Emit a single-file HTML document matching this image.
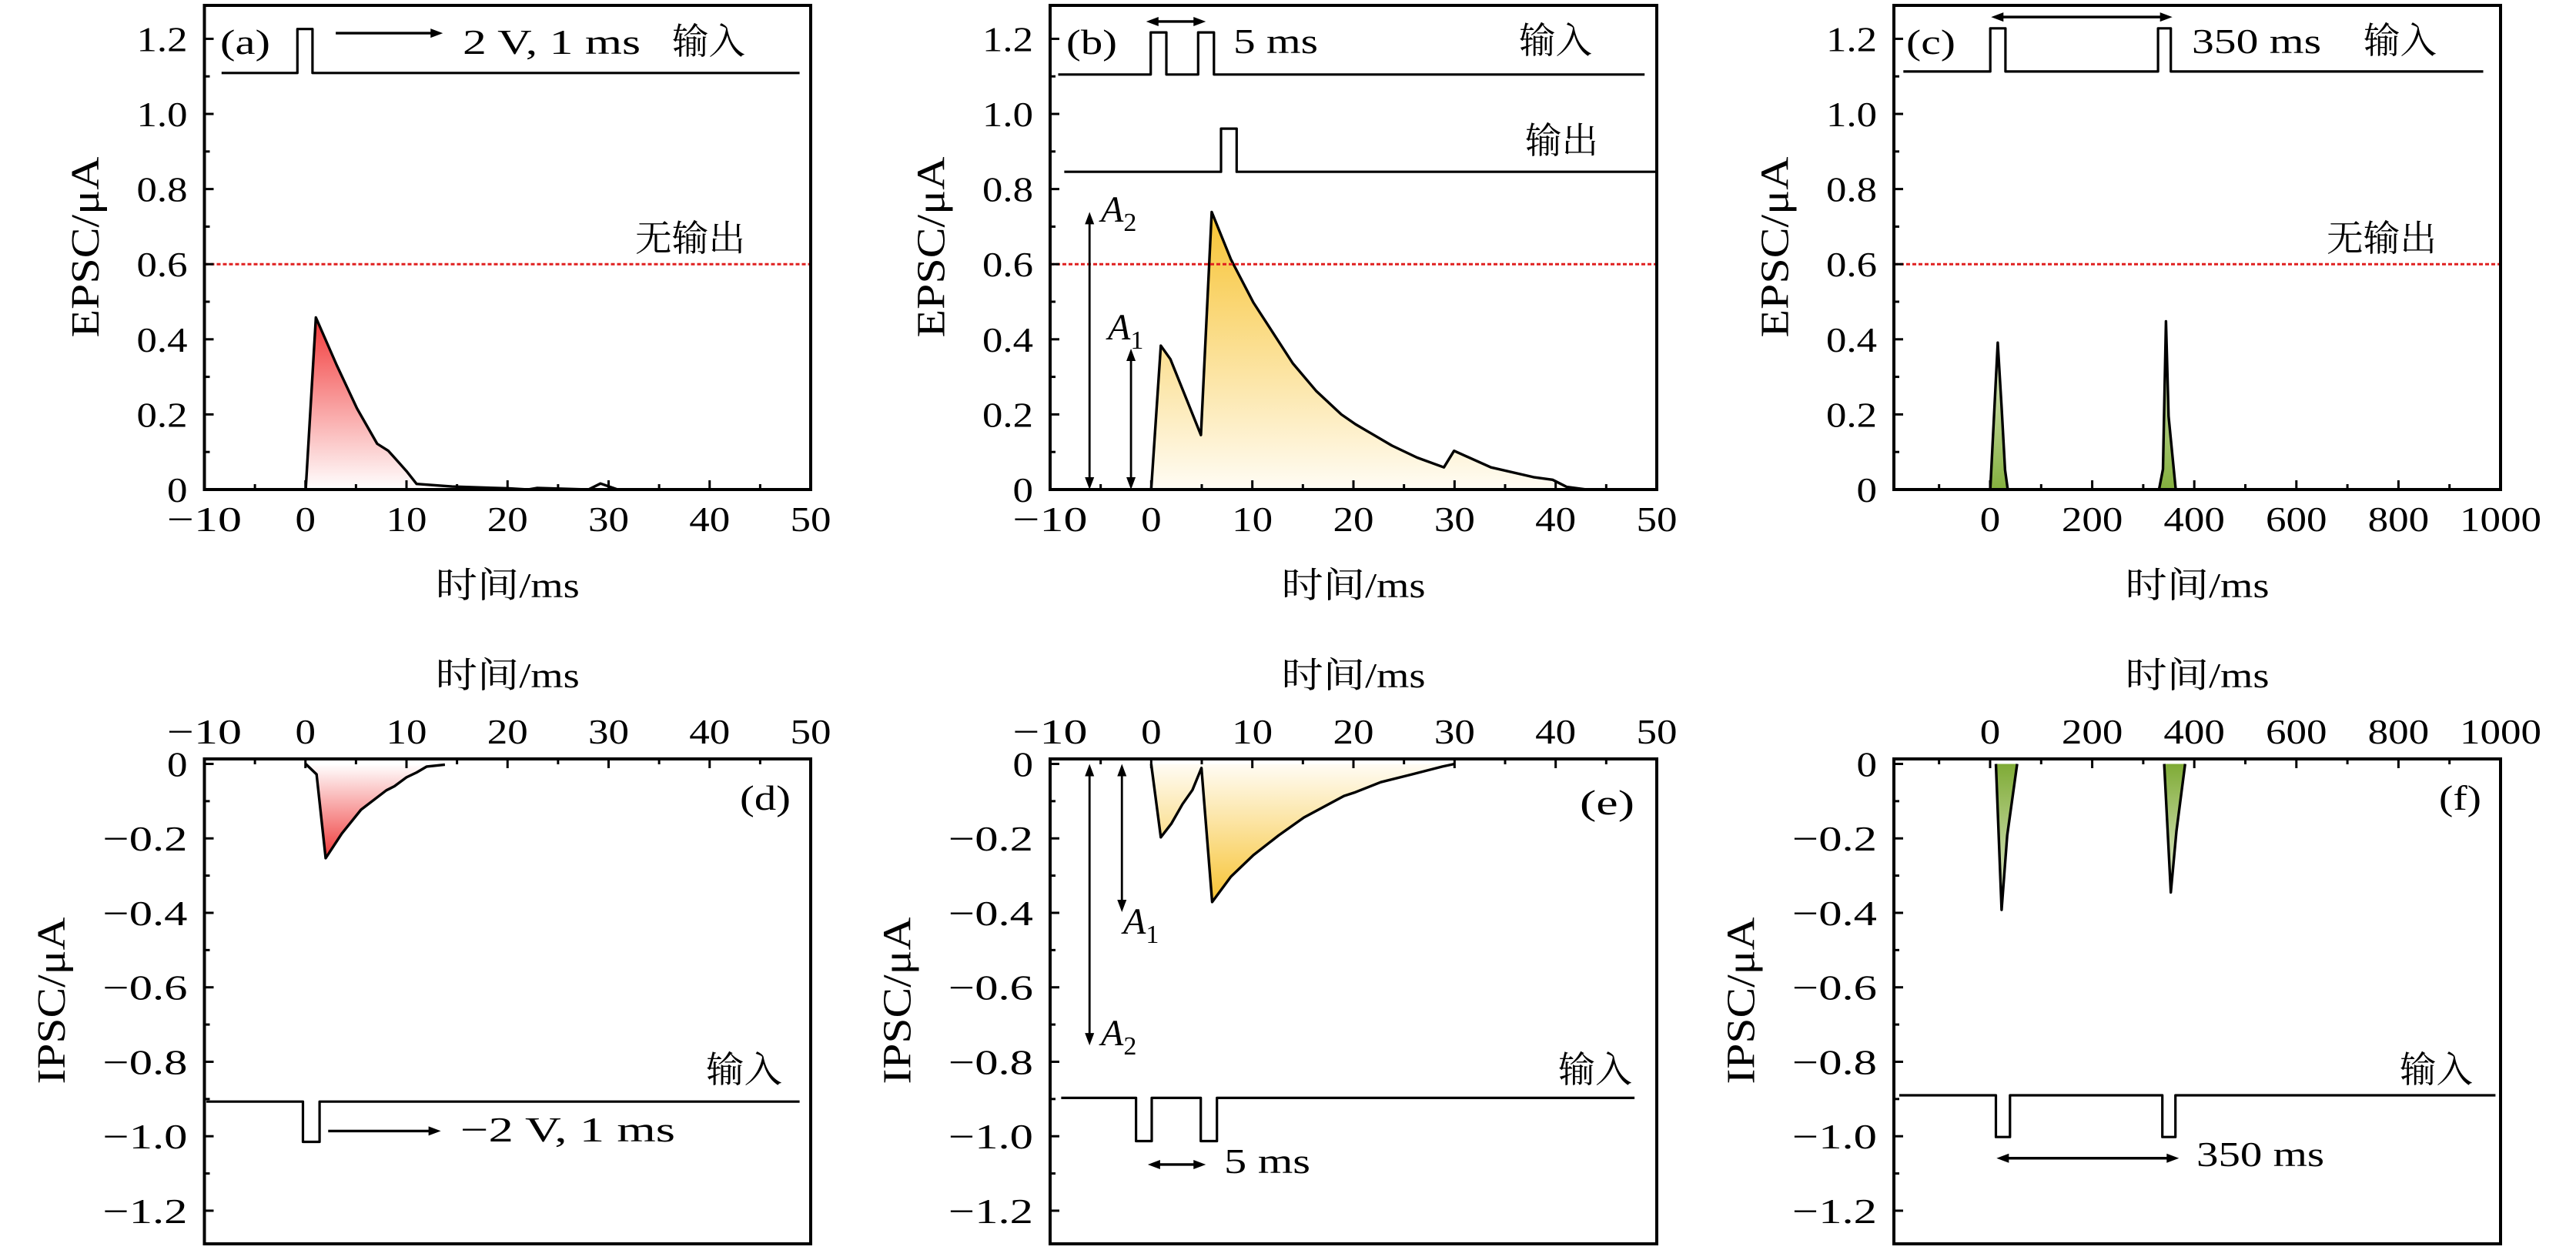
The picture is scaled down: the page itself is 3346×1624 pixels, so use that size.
<!DOCTYPE html>
<html><head><meta charset="utf-8"><style>
html,body{margin:0;padding:0;background:#fff;}
svg{display:block;}
text{font-family:"Liberation Serif","DejaVu Serif","Noto Serif CJK SC",serif;fill:#000;}
</style></head>
<body>
<svg id="fig" xmlns="http://www.w3.org/2000/svg" width="3346" height="1624" viewBox="0 0 3346 1624">
<defs>
<linearGradient id="gRedDown" x1="0" y1="0" x2="0" y2="1"><stop offset="0" stop-color="#f23a3a"/><stop offset="1" stop-color="#ffffff"/></linearGradient>
<linearGradient id="gRedUp" x1="0" y1="0" x2="0" y2="1"><stop offset="0" stop-color="#ffffff"/><stop offset="1" stop-color="#f03838"/></linearGradient>
<linearGradient id="gYelDown" x1="0" y1="0" x2="0" y2="1"><stop offset="0" stop-color="#f7c332"/><stop offset="1" stop-color="#fffcf4"/></linearGradient>
<linearGradient id="gYelUp" x1="0" y1="0" x2="0" y2="1"><stop offset="0" stop-color="#fffcf4"/><stop offset="1" stop-color="#f7c332"/></linearGradient>
<linearGradient id="gGrnUp" x1="0" y1="0" x2="0" y2="1"><stop offset="0" stop-color="#e4ecd2"/><stop offset="1" stop-color="#84b03e"/></linearGradient>
<linearGradient id="gGrnDown" x1="0" y1="0" x2="0" y2="1"><stop offset="0" stop-color="#7fab36"/><stop offset="1" stop-color="#e8efd8"/></linearGradient>
</defs>
</svg>
<script>
// ---------- data ----------
const timeTicksMs = [-10, 0, 10, 20, 30, 40, 50];
const timeTickLabels = ['\u221210', '0', '10', '20', '30', '40', '50'];
const longTicksMs = [0, 200, 400, 600, 800, 1000];
const longTickLabels = ['0', '200', '400', '600', '800', '1000'];
const epscTicks = [0, 0.2, 0.4, 0.6, 0.8, 1.0, 1.2];
const epscTickLabels = ['0', '0.2', '0.4', '0.6', '0.8', '1.0', '1.2'];
const ipscTicks = [0, -0.2, -0.4, -0.6, -0.8, -1.0, -1.2];
const ipscTickLabels = ['0', '\u22120.2', '\u22120.4', '\u22120.6', '\u22120.8', '\u22121.0', '\u22121.2'];
const thresholdValue = 0.6;

// panel (a)
const aTime = [0.03, 1.03, 3.1, 5.1, 7.1, 8.2, 9.3, 10.0, 11.0, 14.5, 20.1, 22, 22.9, 28, 29.2, 30.9];
const aEpsc = [0, 0.458, 0.331, 0.216, 0.122, 0.103, 0.07, 0.049, 0.015, 0.008, 0.003, 0, 0.004, 0, 0.016, 0];
const aInT = [-8.3, -0.8, -0.8, 0.7, 0.7, 48.9];
const aInV = [1.109, 1.109, 1.226, 1.226, 1.109, 1.109];
// panel (b)
const bTime = [0, 0.95, 1.9, 4.92, 5.98, 7.88, 10.1, 14.0, 16.3, 18.8, 20.2, 23.8, 26.3, 28.95, 29.95, 33.6, 37.8, 39.7, 41.1, 43.1];
const bEpsc = [0, 0.383, 0.347, 0.145, 0.739, 0.613, 0.498, 0.336, 0.263, 0.2, 0.174, 0.117, 0.085, 0.059, 0.103, 0.059, 0.033, 0.026, 0.007, 0];
const bInT = [-9.2, -0.05, -0.05, 1.5, 1.5, 4.64, 4.64, 6.2, 6.2, 48.8];
const bInV = [1.105, 1.105, 1.217, 1.217, 1.105, 1.105, 1.217, 1.217, 1.105, 1.105];
const bOutT = [-8.6, 6.9, 6.9, 8.45, 8.45, 49.9];
const bOutV = [0.846, 0.846, 0.961, 0.961, 0.846, 0.846];
// panel (c)
const cTime = [0.3, 15, 22.7, 29.3, 34.5, 331, 338.6, 344.5, 349.7, 363.7];
const cEpsc = [0, 0.391, 0.216, 0.052, 0, 0, 0.054, 0.448, 0.195, 0];
const cInT = [-170, 0.3, 0.3, 30, 30, 329, 329, 354, 354, 966];
const cInV = [1.113, 1.113, 1.228, 1.228, 1.113, 1.113, 1.228, 1.228, 1.113, 1.113];
// panel (d)
const dTime = [0.03, 1.1, 2.0, 3.6, 5.5, 8.0, 8.8, 10.0, 11.0, 12.0, 13.8];
const dIpsc = [0, -0.028, -0.253, -0.187, -0.123, -0.071, -0.06, -0.036, -0.023, -0.007, -0.002];
const dInT = [-9.8, -0.25, -0.25, 1.4, 1.4, 48.9];
const dInV = [-0.907, -0.907, -1.015, -1.015, -0.907, -0.907];
// panel (e)
const eTime = [0, 0.95, 2.0, 3.1, 4.08, 4.97, 6.03, 7.88, 10.1, 12.6, 15.1, 19.06, 20.2, 22.7, 25.8, 28.8, 30];
const eIpsc = [0, -0.197, -0.16, -0.108, -0.07, -0.011, -0.371, -0.303, -0.245, -0.192, -0.144, -0.086, -0.076, -0.049, -0.028, -0.007, 0];
const eInT = [-8.9, -1.5, -1.5, 0.05, 0.05, 4.9, 4.9, 6.5, 6.5, 47.8];
const eInV = [-0.897, -0.897, -1.013, -1.013, -0.897, -0.897, -1.013, -1.013, -0.897, -0.897];
// panel (f)
const fTime = [11.3, 22.5, 33.5, 53, 341, 354, 365, 382];
const fIpsc = [0, -0.392, -0.192, 0, 0, -0.345, -0.181, 0];
const fInT = [-178, 11.3, 11.3, 39, 39, 337.5, 337.5, 363, 363, 990];
const fInV = [-0.89, -0.89, -1.002, -1.002, -0.89, -0.89, -1.002, -1.002, -0.89, -0.89];

// ---------- helpers ----------
const NS = 'http://www.w3.org/2000/svg';
const svg = document.getElementById('fig');
const FONT = '"Liberation Serif","DejaVu Serif","Noto Serif CJK SC",serif';
function mk(tag, attrs, parent) {
  const e = document.createElementNS(NS, tag);
  for (const k in attrs) e.setAttribute(k, attrs[k]);
  (parent || svg).appendChild(e);
  return e;
}
function sx(p, v) { return p.L + (v - p.x0) / (p.x1 - p.x0) * (p.R - p.L); }
function sy(p, v) { return p.B - (v - p.y0) / (p.y1 - p.y0) * (p.B - p.T); }
function pts(p, xs, ys) { return xs.map((x, i) => sx(p, x).toFixed(1) + ',' + sy(p, ys[i]).toFixed(1)).join(' '); }
function numWidth(s) {
  let w = 0;
  for (const ch of s) w += (ch === '.') ? 13 : (ch === '\u2212' ? 44 : 26.5);
  return w;
}

const PA = {L: 265.5, R: 1053, T: 7, B: 636, x0: -10, x1: 50, y0: 0, y1: 1.289};
const PB = {L: 1364, R: 2152, T: 7, B: 636, x0: -10, x1: 50, y0: 0, y1: 1.289};
const PC = {L: 2460, R: 3248, T: 7, B: 636, x0: -188.5, x1: 1000, y0: 0, y1: 1.289};
const PD = {L: 265.5, R: 1053, T: 986, B: 1616, x0: -10, x1: 50, y0: -1.289, y1: 0.0134};
const PE = {L: 1364, R: 2152, T: 986, B: 1616, x0: -10, x1: 50, y0: -1.289, y1: 0.0134};
const PF = {L: 2460, R: 3248, T: 986, B: 1616, x0: -188.5, x1: 1000, y0: -1.289, y1: 0.0134};

function fillArea(p, xs, ys, grad, name) {
  const poly = pts(p, xs, ys) + ' ' + sx(p, xs[xs.length - 1]).toFixed(1) + ',' + sy(p, 0).toFixed(1) + ' ' + sx(p, xs[0]).toFixed(1) + ',' + sy(p, 0).toFixed(1);
  const el = mk('polygon', {points: poly, fill: 'url(#' + grad + ')', stroke: 'none'});
  
  
}
function curve(p, xs, ys, name, w) {
  const el = mk('polyline', {points: pts(p, xs, ys), fill: 'none', stroke: '#000', 'stroke-width': w || 3.4, 'stroke-linejoin': 'round'});
  
  
}
function arrowHead(x, y, dir, name) {
  const L = 16, W = 6;
  let d;
  if (dir === 'r') d = `M${x},${y} L${x - L},${y - W} L${x - L},${y + W} Z`;
  if (dir === 'l') d = `M${x},${y} L${x + L},${y - W} L${x + L},${y + W} Z`;
  if (dir === 'u') d = `M${x},${y} L${x - W},${y + L} L${x + W},${y + L} Z`;
  if (dir === 'd') d = `M${x},${y} L${x - W},${y - L} L${x + W},${y - L} Z`;
  const el = mk('path', {d: d, fill: '#000'});
  
  
}
function hArrow(p, x1v, x2v, yv, both, name) {
  const x1 = sx(p, x1v), x2 = sx(p, x2v), y = sy(p, yv);
  const el = mk('line', {x1: x1 + (both ? 8 : 0), y1: y, x2: x2 - 8, y2: y, stroke: '#000', 'stroke-width': 3.4});
  
  
  arrowHead(x2, y, 'r', name + '-head-right');
  if (both) arrowHead(x1, y, 'l', name + '-head-left');
}
function vArrow(p, xv, y1v, y2v, name) {
  const x = sx(p, xv), y1 = sy(p, y1v), y2 = sy(p, y2v);
  const el = mk('line', {x1: x, y1: Math.min(y1, y2) + 8, x2: x, y2: Math.max(y1, y2) - 8, stroke: '#000', 'stroke-width': 2.8});
  
  
  arrowHead(x, Math.min(y1, y2), 'u', name + '-head-up');
  arrowHead(x, Math.max(y1, y2), 'd', name + '-head-down');
}
function txt(x, y, s, size, name, anchor, len, extra) {
  const a = Object.assign({x: x, y: y, 'font-size': size, 'text-anchor': anchor || 'start', 'font-family': FONT}, extra || {});
  if (len) { a.textLength = len; a.lengthAdjust = 'spacingAndGlyphs'; }
  const el = mk('text', a);
  el.textContent = s;
  
  
  return el;
}
function ampLabel(x, y, sub, name) {
  const el = mk('text', {x: x, y: y, 'font-size': 48, 'font-style': 'italic', 'font-family': FONT});
  
  
  const t1 = mk('tspan', {}, el); t1.textContent = 'A';
  const t2 = mk('tspan', {'font-size': 34, 'font-style': 'normal', dy: 12}, el); t2.textContent = sub;
}
function threshold(p, name) {
  const el = mk('line', {x1: p.L, y1: sy(p, thresholdValue), x2: p.R, y2: sy(p, thresholdValue), stroke: '#e02020', 'stroke-width': 3, 'stroke-dasharray': '5 3'});
  
  
}
function frame(p, name) {
  const el = mk('rect', {x: p.L, y: p.T, width: p.R - p.L, height: p.B - p.T, fill: 'none', stroke: '#000', 'stroke-width': 4});
  
  
}
function axes(p, id, xt, xl, xminorStep, yt, yl, top, ytitle) {
  const g = mk('g', {});
  
  
  const ax = top ? p.T : p.B, dir = top ? 1 : -1;
  for (let v = Math.ceil(p.x0 / xminorStep) * xminorStep; v <= p.x1 + 1e-9; v += xminorStep) {
    const major = xt.some(t => Math.abs(t - v) < 1e-6);
    const x = sx(p, v);
    const t = mk('line', {x1: x, y1: ax, x2: x, y2: ax + dir * (major ? 12 : 7), stroke: '#000', 'stroke-width': 3}, g);
    
    
  }
  xt.forEach((v, i) => {
    const x = sx(p, v);
    const t = txt(x, top ? 966 : 690, xl[i], 46, 'x-tick-label', 'middle', numWidth(xl[i]));
    g.appendChild(t);
  });
  const yStep = 0.1;
  for (let k = Math.ceil(p.y0 / yStep); k * yStep <= p.y1 + 1e-9; k++) {
    const major = k % 2 === 0;
    const y = sy(p, k * yStep);
    const t = mk('line', {x1: p.L, y1: y, x2: p.L + (major ? 12 : 7), y2: y, stroke: '#000', 'stroke-width': 3}, g);
    
    
  }
  yt.forEach((v, i) => {
    const t = txt(p.L - 22, sy(p, v) + 16, yl[i], 46, 'y-tick-label', 'end', numWidth(yl[i]));
    g.appendChild(t);
  });
  const cx = (p.L + p.R) / 2;
  const xtT = txt(cx, top ? 893 : 776, '时间/ms', 46, 'x-axis-title', 'middle', 187);
  g.appendChild(xtT);
  const bx = top ? p.L - 181.5 : p.L - 137.5;
  const cy = top ? 1300 : 321;
  const len = top ? 217 : 235;
  const ytT = txt(bx, cy, ytitle, 52, 'y-axis-title', 'middle', len, {transform: `rotate(-90 ${bx} ${cy})`});
  g.appendChild(ytT);
}

// ---------- panel a ----------
fillArea(PA, aTime, aEpsc, 'gRedDown', 'epsc-a');
curve(PA, aTime, aEpsc, 'epsc-a-curve');
threshold(PA, 'threshold-line-a');
curve(PA, aInT, aInV, 'input-pulse-a', 3.2);
hArrow(PA, 3.0, 13.6, 1.215, false, 'pulse-arrow-a');
txt(601, 70, '2 V, 1 ms', 46, 'pulse-label-a', 'start', 231);
txt(873, 70, '输入', 47, 'input-label-a', 'start', 95);
txt(968, 326, '无输出', 47, 'no-output-label-a', 'end', 143);
txt(286, 70, '(a)', 46, 'panel-label-a', 'start', 65);
frame(PA, 'panel-a-frame');
axes(PA, 'a', timeTicksMs, timeTickLabels, 5, epscTicks, epscTickLabels, false, 'EPSC/μA');

// ---------- panel b ----------
fillArea(PB, bTime, bEpsc, 'gYelDown', 'epsc-b');
curve(PB, bTime, bEpsc, 'epsc-b-curve');
threshold(PB, 'threshold-line-b');
curve(PB, bInT, bInV, 'input-pulse-b', 3.2);
curve(PB, bOutT, bOutV, 'output-pulse-b', 3.2);
hArrow(PB, -0.5, 5.4, 1.246, true, 'interval-arrow-b');
txt(1602, 69, '5 ms', 46, 'interval-label-b', 'start', 110);
txt(2068, 69, '输入', 47, 'input-label-b', 'end', 95);
txt(2076, 199, '输出', 47, 'output-label-b', 'end', 95);
txt(1385, 70, '(b)', 46, 'panel-label-b', 'start', 66);
vArrow(PB, -6.1, 0, bEpsc[4], 'amp-arrow-a2-b');
vArrow(PB, -2.0, 0, bEpsc[1] - 0.008, 'amp-arrow-a1-b');
ampLabel(1430, 288, '2', 'amp-label-a2-b');
ampLabel(1439, 441, '1', 'amp-label-a1-b');
frame(PB, 'panel-b-frame');
axes(PB, 'b', timeTicksMs, timeTickLabels, 5, epscTicks, epscTickLabels, false, 'EPSC/μA');

// ---------- panel c ----------
fillArea(PC, cTime.slice(0, 5), cEpsc.slice(0, 5), 'gGrnUp', 'epsc-c-peak1');
fillArea(PC, cTime.slice(5), cEpsc.slice(5), 'gGrnUp', 'epsc-c-peak2');
curve(PC, cTime.slice(0, 5), cEpsc.slice(0, 5), 'epsc-c-peak1-curve');
curve(PC, cTime.slice(5), cEpsc.slice(5), 'epsc-c-peak2-curve');
threshold(PC, 'threshold-line-c');
curve(PC, cInT, cInV, 'input-pulse-c', 3.2);
hArrow(PC, 2, 357, 1.258, true, 'interval-arrow-c');
txt(2847, 69, '350 ms', 46, 'interval-label-c', 'start', 168);
txt(3165, 69, '输入', 47, 'input-label-c', 'end', 95);
txt(3165, 326, '无输出', 47, 'no-output-label-c', 'end', 143);
txt(2476, 70, '(c)', 46, 'panel-label-c', 'start', 64);
frame(PC, 'panel-c-frame');
axes(PC, 'c', longTicksMs, longTickLabels, 100, epscTicks, epscTickLabels, false, 'EPSC/μA');

// ---------- panel d ----------
fillArea(PD, dTime, dIpsc, 'gRedUp', 'ipsc-d');
curve(PD, dTime, dIpsc, 'ipsc-d-curve');
curve(PD, dInT, dInV, 'input-pulse-d', 3.2);
hArrow(PD, 2.25, 13.4, -0.986, false, 'pulse-arrow-d');
txt(598, 1483, '\u22122 V, 1 ms', 46, 'pulse-label-d', 'start', 279);
txt(1016, 1406, '输入', 47, 'input-label-d', 'end', 99);
txt(1027, 1052, '(d)', 46, 'panel-label-d', 'end', 66);
frame(PD, 'panel-d-frame');
axes(PD, 'd', timeTicksMs, timeTickLabels, 5, ipscTicks, ipscTickLabels, true, 'IPSC/μA');

// ---------- panel e ----------
fillArea(PE, eTime, eIpsc, 'gYelUp', 'ipsc-e');
curve(PE, eTime, eIpsc, 'ipsc-e-curve');
curve(PE, eInT, eInV, 'input-pulse-e', 3.2);
hArrow(PE, -0.34, 5.4, -1.076, true, 'interval-arrow-e');
txt(1590, 1524, '5 ms', 46, 'interval-label-e', 'start', 112);
txt(2120, 1406, '输入', 47, 'input-label-e', 'end', 96);
txt(2123, 1058, '(e)', 46, 'panel-label-e', 'end', 71);
vArrow(PE, -6.1, 0, -0.756, 'amp-arrow-a2-e');
vArrow(PE, -2.9, 0, -0.398, 'amp-arrow-a1-e');
ampLabel(1459, 1213, '1', 'amp-label-a1-e');
ampLabel(1430, 1358, '2', 'amp-label-a2-e');
frame(PE, 'panel-e-frame');
axes(PE, 'e', timeTicksMs, timeTickLabels, 5, ipscTicks, ipscTickLabels, true, 'IPSC/μA');

// ---------- panel f ----------
fillArea(PF, fTime.slice(0, 4), fIpsc.slice(0, 4), 'gGrnDown', 'ipsc-f-peak1');
fillArea(PF, fTime.slice(4), fIpsc.slice(4), 'gGrnDown', 'ipsc-f-peak2');
curve(PF, fTime.slice(0, 4), fIpsc.slice(0, 4), 'ipsc-f-peak1-curve');
curve(PF, fTime.slice(4), fIpsc.slice(4), 'ipsc-f-peak2-curve');
curve(PF, fInT, fInV, 'input-pulse-f', 3.2);
hArrow(PF, 12.6, 370, -1.059, true, 'interval-arrow-f');
txt(2853, 1515, '350 ms', 46, 'interval-label-f', 'start', 166);
txt(3212, 1406, '输入', 47, 'input-label-f', 'end', 95);
txt(3223, 1052, '(f)', 46, 'panel-label-f', 'end', 55);
frame(PF, 'panel-f-frame');
axes(PF, 'f', longTicksMs, longTickLabels, 100, ipscTicks, ipscTickLabels, true, 'IPSC/μA');
</script>
</body></html>
